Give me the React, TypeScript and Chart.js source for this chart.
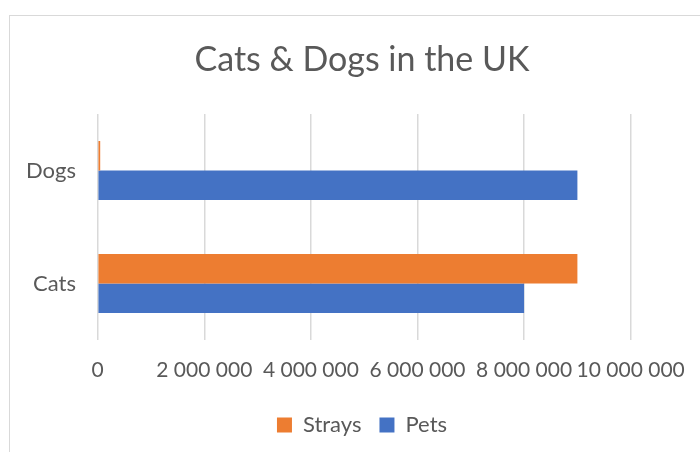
import React, { useEffect, useRef } from "react";
import { Chart, registerables } from "chart.js";

Chart.register(...registerables);

const categories = ["Dogs", "Cats"];
const straysValues = [47000, 9000000];
const petsValues = [9000000, 8000000];
const seriesNames = ["Strays", "Pets"];
const xTickValues = [0, 2000000, 4000000, 6000000, 8000000, 10000000];
const chartTitle = "Cats & Dogs in the UK";

const FONT = "Lato, 'Open Sans', sans-serif";
const TEXT = "#595959";
const GRID = "#d9d9d9";

function fmt(v: number): string {
  return String(Math.round(v)).replace(/\B(?=(\d{3})+(?!\d))/g, " ");
}

export default function App() {
  const ref = useRef<HTMLCanvasElement | null>(null);

  useEffect(() => {
    if (!ref.current) return;
    const chart = new Chart(ref.current, {
      type: "bar",
      data: {
        labels: categories,
        datasets: [
          {
            label: seriesNames[0],
            data: straysValues,
            backgroundColor: "#ED7D31",
            borderWidth: 0,
            categoryPercentage: 0.524,
            barPercentage: 1,
          },
          {
            label: seriesNames[1],
            data: petsValues,
            backgroundColor: "#4472C4",
            borderWidth: 0,
            categoryPercentage: 0.524,
            barPercentage: 1,
          },
        ],
      },
      options: {
        indexAxis: "y",
        responsive: false,
        animation: false,
        devicePixelRatio: 1,
        layout: { padding: { top: 0, left: 0, right: 0, bottom: 6 } },
        scales: {
          x: {
            type: "linear",
            min: 0,
            max: 10000000,
            afterBuildTicks: (scale: any) => {
              scale.ticks = xTickValues.map((v) => ({ value: v }));
            },
            afterFit: (scale: any) => {
              scale.height = 56;
              scale.paddingRight = 84.3;
            },
            grid: {
              color: GRID,
              lineWidth: 1.5,
              drawTicks: false,
            },
            border: { display: false },
            ticks: {
              padding: 17.4,
              color: TEXT,
              font: { family: FONT, size: 21 },
              maxRotation: 0,
              autoSkip: false,
              callback: (v: any) => fmt(Number(v)),
            },
          },
          y: {
            type: "category",
            afterFit: (scale: any) => {
              scale.width = 88.7;
            },
            grid: { display: false, drawTicks: false },
            border: { display: false },
            ticks: {
              padding: 21.7,
              color: TEXT,
              font: { family: FONT, size: 22 },
            },
          },
        },
        plugins: {
          title: {
            display: true,
            text: chartTitle,
            color: TEXT,
            font: { family: FONT, size: 34, weight: "normal" },
            padding: { top: 24.6, bottom: 33.6 },
          },
          legend: {
            display: true,
            position: "bottom",
            labels: {
              color: TEXT,
              font: { family: FONT, size: 22 },
              boxWidth: 15,
              boxHeight: 15,
              padding: 18,
            },
          },
          tooltip: { enabled: false },
        },
      },
    });
    return () => chart.destroy();
  }, []);

  return (
    <div
      style={{
        position: "absolute",
        left: 0,
        top: 0,
        width: 700,
        height: 452,
        overflow: "hidden",
        background: "#ffffff",
      }}
    >
      <div
        style={{
          position: "absolute",
          left: 9,
          top: 15,
          width: 760,
          height: 500,
          borderLeft: `1.5px solid ${GRID}`,
          borderTop: `1.5px solid ${GRID}`,
          boxSizing: "border-box",
        }}
      />
      <canvas
        ref={ref}
        width={706}
        height={437}
        style={{ position: "absolute", left: 9, top: 15, width: 706, height: 437 }}
      />
    </div>
  );
}
